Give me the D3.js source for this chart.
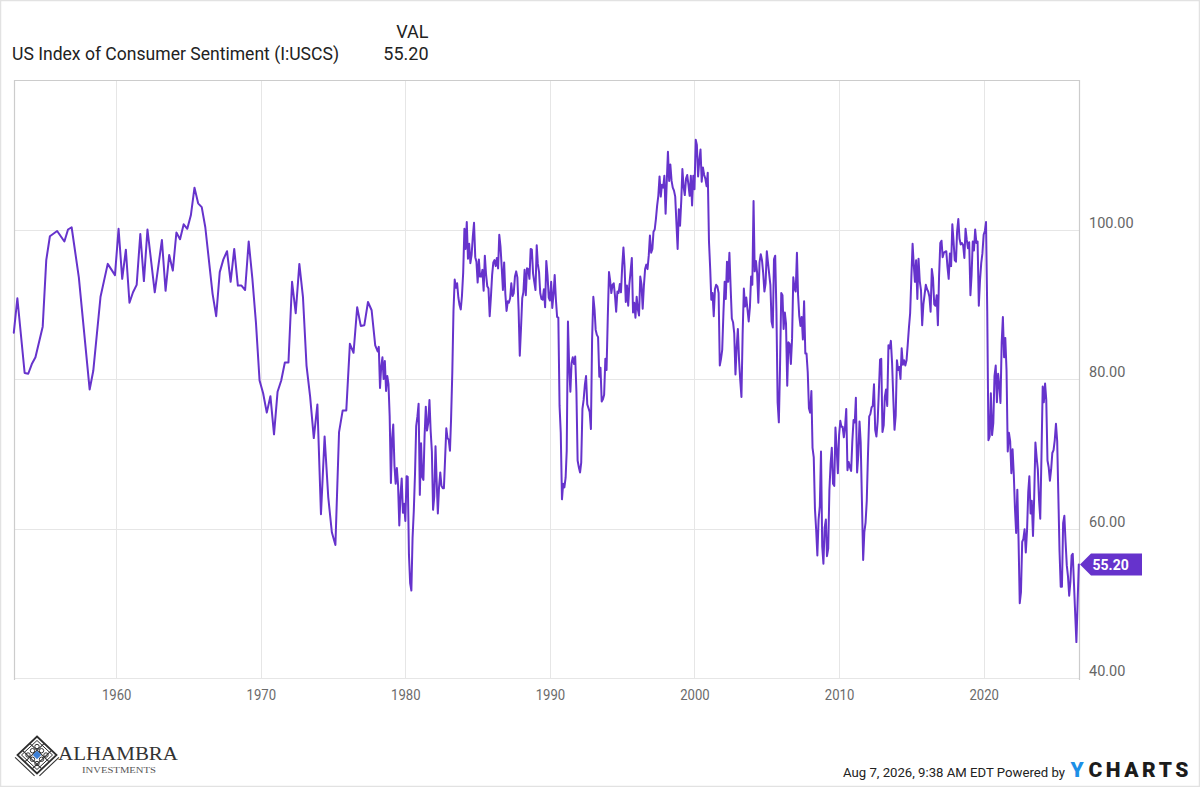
<!DOCTYPE html>
<html>
<head>
<meta charset="utf-8">
<script src="https://cdn.jsdelivr.net/npm/d3@7/dist/d3.min.js"></script>
<style>
  html, body { margin: 0; padding: 0; background: #ffffff; }
  svg { display: block; font-family: Roboto, "Open Sans", "DejaVu Sans", sans-serif; }
</style>
</head>
<body>
<script>
// ---------------- DATA ----------------
const seriesName = "US Index of Consumer Sentiment (I:USCS)";
const valueHeader = "VAL";
const stampText = "Aug 7, 2026, 9:38 AM EDT Powered by";

// Early survey readings (irregular / quarterly), month of survey
const earlyDates = [
  "1952-11","1953-02","1953-08","1953-11","1954-02","1954-05","1954-11","1955-02","1955-05","1955-11",
  "1956-05","1956-08","1956-11","1957-05","1958-02","1958-05","1958-11","1959-05","1959-11",
  "1960-02","1960-05","1960-08","1960-11","1961-02","1961-05","1961-08","1961-11","1962-02","1962-08",
  "1963-02","1963-05","1963-08","1963-11","1964-02","1964-05","1964-08","1964-11",
  "1965-02","1965-05","1965-08","1965-11","1966-02","1966-08","1966-11",
  "1967-02","1967-05","1967-08","1967-11","1968-02","1968-05","1968-08","1968-11",
  "1969-02","1969-05","1969-08","1969-11","1970-02","1970-05","1970-08","1970-11",
  "1971-02","1971-05","1971-08","1971-11","1972-02","1972-05","1972-08","1972-11",
  "1973-02","1973-05","1973-08","1973-11","1974-02","1974-05","1974-08","1974-11",
  "1975-02","1975-05","1975-08","1975-11","1976-02","1976-05","1976-08","1976-11",
  "1977-02","1977-05","1977-08","1977-11"
];
const earlyValues = [
  86.2,90.8,80.8,80.7,82.0,82.9,87.0,95.9,99.1,99.8,
  98.4,100.0,100.3,93.6,78.6,81.1,91.0,95.4,93.9,
  100.1,93.4,97.3,90.2,91.6,92.6,99.4,93.1,100.0,91.6,
  98.6,91.8,96.6,94.5,99.6,98.7,100.7,100.1,
  101.9,105.6,103.5,103.0,100.3,91.4,88.4,
  94.3,96.0,97.1,93.0,97.4,92.5,92.5,91.9,
  98.4,93.5,87.5,79.8,78.1,75.5,77.7,72.6,
  78.3,79.8,82.2,82.2,93.0,88.8,95.4,91.0,
  81.8,77.6,72.1,76.6,61.9,72.3,64.2,59.5,
  57.8,72.9,75.8,75.8,84.7,83.5,89.6,87.1,
  87.2,90.3,89.2,84.5
];

// Monthly readings, consecutive months starting January 1978
const monthlyStart = "1978-01";
const monthly1978to1989 = [
  83.7,84.3,78.8,81.6,82.9,80.0,82.4,78.4,80.4,79.3,75.0,66.1,
  72.1,73.9,68.4,66.0,68.1,65.8,60.4,64.5,66.7,62.1,63.3,61.0,
  67.0,66.9,56.5,52.7,51.7,58.7,62.3,67.3,73.7,75.0,76.7,64.5,
  71.4,66.9,66.5,72.4,76.3,73.1,74.1,77.2,73.1,70.3,62.5,64.3,
  71.0,66.5,62.0,65.5,67.5,65.7,65.4,65.4,69.3,73.4,72.1,71.9,
  70.4,74.6,80.8,89.1,93.3,92.2,92.8,90.9,89.9,89.3,91.1,94.2,
  100.1,97.4,101.0,96.1,98.1,95.5,96.6,99.1,100.9,96.3,95.7,92.9,
  96.0,93.7,93.7,94.6,91.8,96.5,94.0,92.4,92.1,88.4,90.9,93.9,
  95.6,95.9,95.1,96.2,94.8,99.3,97.7,94.9,91.9,95.6,91.4,89.1,
  90.4,90.2,90.8,92.8,91.1,91.5,93.7,94.4,93.6,89.3,83.1,86.8,
  90.8,91.6,94.6,91.2,94.8,94.7,93.4,97.4,97.3,94.1,93.0,91.9,
  97.9,95.4,94.3,91.5,90.7,90.6,92.0,89.6,95.8,93.9,90.9,90.5
];
const monthly1990to1999 = [
  93.0,89.5,91.3,93.9,90.6,88.3,88.2,76.4,72.8,63.9,66.0,65.5,
  66.8,70.4,87.7,81.8,78.3,82.1,82.9,82.0,83.0,78.3,69.1,68.2,
  67.5,68.8,76.0,77.2,79.2,80.4,76.6,76.1,75.6,73.3,85.3,91.0,
  89.3,86.6,85.9,85.6,80.3,81.5,77.0,77.3,77.9,82.7,81.2,88.2,
  94.3,93.2,91.5,92.6,92.8,91.2,89.0,91.7,91.5,92.7,91.6,95.1,
  97.6,95.1,90.3,92.5,89.8,92.7,94.4,96.2,88.9,90.2,88.2,91.0,
  89.3,88.5,93.7,92.7,89.4,92.4,94.7,95.3,94.7,96.5,99.2,96.9,
  97.4,99.7,100.0,101.4,103.2,104.5,107.1,104.4,106.0,105.6,107.2,102.1,
  106.6,110.4,106.5,108.7,106.5,105.6,105.2,104.4,100.9,97.4,102.7,100.5,
  103.9,108.1,105.7,104.6,106.8,107.3,106.0,104.5,107.2,103.2,107.2,105.4
];
const monthly2000to2009 = [
  112.0,111.3,107.1,109.2,110.7,106.4,108.3,107.3,106.8,105.8,107.6,98.4,
  94.7,90.6,91.5,88.4,92.0,92.6,92.4,91.5,81.8,82.7,83.9,88.8,
  93.0,90.7,95.7,93.0,96.9,92.4,88.1,87.6,86.1,80.6,84.2,86.7,
  82.4,79.9,77.6,86.0,92.1,89.7,90.9,89.3,87.7,89.6,93.7,92.6,
  103.8,94.4,95.8,94.2,90.2,95.6,96.7,95.9,94.2,91.7,92.8,97.1,
  95.5,94.1,92.6,87.7,86.9,96.0,96.5,89.1,76.9,74.2,81.6,91.5,
  91.2,86.7,88.9,87.4,79.1,84.9,84.7,82.0,85.4,93.6,92.1,91.7,
  96.9,91.3,88.4,87.1,88.3,85.3,90.4,83.4,83.4,80.9,76.1,75.5,
  78.4,70.8,69.5,62.6,59.8,56.4,61.2,63.0,70.3,57.6,55.3,60.1,
  61.2,56.3,57.3,65.1,68.7,70.8,66.0,65.7,73.5,70.6,67.4,72.5
];
const monthly2010to2019 = [
  74.4,73.6,73.6,72.2,73.6,76.0,67.8,68.9,68.2,67.7,71.6,74.5,
  74.2,77.5,67.5,69.8,74.3,71.5,63.7,55.8,59.5,60.8,63.7,69.9,
  75.0,75.3,76.2,76.4,79.3,73.2,72.3,74.3,78.3,82.6,82.7,72.9,
  73.8,77.6,78.6,76.4,84.5,84.1,85.1,82.1,77.5,73.2,75.1,82.5,
  81.2,81.6,80.0,84.1,81.9,82.5,81.8,82.5,84.6,86.9,88.8,93.6,
  98.1,95.4,93.0,95.9,90.7,96.1,93.1,91.9,87.2,90.0,91.3,92.6,
  92.0,91.7,91.0,89.0,94.7,93.5,90.0,89.8,91.2,87.2,93.8,98.2,
  98.5,96.3,96.9,97.0,97.1,95.0,93.4,96.8,95.1,100.7,98.5,95.9,
  95.7,99.7,101.4,98.8,98.0,98.2,97.9,96.2,100.1,98.6,97.5,98.3,
  91.2,93.8,98.4,97.2,100.0,98.2,98.4,89.8,93.2,95.5,96.8,99.3
];
const monthly2020to2026 = [
  99.8,101.0,89.1,71.8,72.3,78.1,72.5,74.1,80.4,81.8,76.9,80.7,
  79.0,76.8,84.9,88.3,82.9,85.5,81.2,70.3,72.8,71.7,67.4,70.6,
  67.2,62.8,59.4,65.2,58.4,50.0,51.5,58.2,58.6,59.9,56.8,59.7,
  64.9,67.0,62.0,63.7,59.0,64.2,71.5,69.5,67.9,63.8,61.3,69.7,
  79.0,76.9,79.4,77.2,69.1,68.2,66.4,67.9,70.1,70.5,71.8,74.0,
  71.7,64.7,57.0,52.2,52.2,60.7,61.7,58.2,55.1,53.6,51.0,52.9,
  56.4,56.6,52.6,48.7,44.8,50.0,55.2
];

const yTickValues = [40, 60, 80, 100];
const xTickYears = [1960, 1970, 1980, 1990, 2000, 2010, 2020];
const yDomain = [40, 120];

// ---------------- BUILD ----------------
const parseMonth = d3.timeParse("%Y-%m");
// each monthly reading is plotted at the close of its month
const plotDate = m => d3.timeMonth.offset(m, 1);

const data = [];
earlyDates.forEach((s, i) => data.push({ date: plotDate(parseMonth(s)), value: earlyValues[i] }));
const monthlyAll = [].concat(monthly1978to1989, monthly1990to1999, monthly2000to2009, monthly2010to2019, monthly2020to2026);
const m0 = parseMonth(monthlyStart);
monthlyAll.forEach((v, i) => data.push({ date: plotDate(d3.timeMonth.offset(m0, i)), value: v }));

const W = 1200, H = 787;
const plot = { left: 14, right: 1079, top: 80, bottom: 678 };

const svg = d3.select("body").append("svg").attr("width", W).attr("height", H);

// outer frame
svg.append("rect").attr("x", 0.5).attr("y", 0.5).attr("width", W - 1).attr("height", H - 1)
  .attr("fill", "#fff").attr("stroke", "#e2e2e2").attr("stroke-width", 1.5);

const x = d3.scaleTime()
  .domain(d3.extent(data, d => d.date))
  .range([plot.left - 0.2, plot.right - 0.2]);
const y = d3.scaleLinear().domain(yDomain).range([plot.bottom, plot.top]);

// gridlines
const grid = svg.append("g");
grid.selectAll("line.h").data(yTickValues).join("line")
  .attr("x1", plot.left).attr("x2", plot.right)
  .attr("y1", d => Math.round(y(d)) + 0.5).attr("y2", d => Math.round(y(d)) + 0.5)
  .attr("stroke", "#e6e6e6").attr("stroke-width", 1);
grid.selectAll("line.v").data(xTickYears).join("line")
  .attr("x1", d => Math.round(x(new Date(d, 0, 1))) + 0.5)
  .attr("x2", d => Math.round(x(new Date(d, 0, 1))) + 0.5)
  .attr("y1", plot.top).attr("y2", plot.bottom)
  .attr("stroke", "#e6e6e6").attr("stroke-width", 1);

// plot frame (left, top, right)
const frame = svg.append("g").attr("stroke", "#cccccc").attr("stroke-width", 1.2).attr("fill", "none");
frame.append("line").attr("x1", plot.left + 0.5).attr("x2", plot.left + 0.5).attr("y1", plot.top).attr("y2", plot.bottom + 2);
frame.append("line").attr("x1", plot.left).attr("x2", plot.right + 0.5).attr("y1", plot.top + 0.5).attr("y2", plot.top + 0.5);
frame.append("line").attr("x1", plot.right + 0.5).attr("x2", plot.right + 0.5).attr("y1", plot.top).attr("y2", plot.bottom + 2);

// x axis
const xAxis = d3.axisBottom(x)
  .tickValues(xTickYears.map(yr => new Date(yr, 0, 1)))
  .tickFormat(d3.timeFormat("%Y"))
  .tickSize(0).tickPadding(12);
const gx = svg.append("g").attr("transform", `translate(0,${plot.bottom})`).call(xAxis);
gx.select(".domain").remove();
gx.selectAll("text").attr("fill", "#6b6b6b").attr("font-size", 14)
  .attr("font-family", "Roboto, sans-serif").attr("textLength", 29.5).attr("lengthAdjust", "spacingAndGlyphs");

// y axis (right)
const yAxis = d3.axisRight(y).tickValues(yTickValues).tickFormat(d3.format(".2f")).tickSize(0).tickPadding(10);
const gy = svg.append("g").attr("transform", `translate(${plot.right},0)`).call(yAxis);
gy.select(".domain").remove();
gy.selectAll("text").attr("fill", "#666666").attr("font-size", 14.5)
  .attr("font-family", "Roboto, sans-serif").attr("y", -6.8);

// line
const line = d3.line().x(d => x(d.date)).y(d => y(d.value));
svg.append("path").datum(data)
  .attr("d", line)
  .attr("fill", "none")
  .attr("stroke", "#6633cc")
  .attr("stroke-width", 2)
  .attr("stroke-linejoin", "round")
  .attr("stroke-linecap", "round");

// last value flag
const last = data[data.length - 1];
const ly = y(last.value);
const lx = plot.right + 1;
svg.append("path")
  .attr("d", `M${lx},${ly} L${lx + 11},${ly - 11} L${lx + 62},${ly - 11} L${lx + 62},${ly + 11} L${lx + 11},${ly + 11} Z`)
  .attr("fill", "#6633cc");
svg.append("text").attr("x", lx + 12.5).attr("y", ly + 5.2)
  .attr("fill", "#ffffff").attr("font-size", 14).attr("font-weight", 700)
  .attr("font-family", "Roboto, sans-serif")
  .text(d3.format(".2f")(last.value));

// header
svg.append("text").attr("x", 12).attr("y", 59.5).attr("font-size", 18).attr("fill", "#222")
  .attr("textLength", 327).attr("lengthAdjust", "spacingAndGlyphs").text(seriesName);
svg.append("text").attr("x", 428.5).attr("y", 37.8).attr("font-size", 18).attr("fill", "#222")
  .attr("text-anchor", "end").text(valueHeader);
svg.append("text").attr("x", 428.5).attr("y", 59.5).attr("font-size", 18).attr("fill", "#222")
  .attr("text-anchor", "end").text(d3.format(".2f")(last.value));

// footer stamp: size it so its natural width fits before the YCharts mark
const stamp = svg.append("text").attr("x", 843).attr("y", 776.5).attr("font-size", 15).attr("fill", "#222").text(stampText);
const natural = stamp.node().getComputedTextLength();
const targetW = 222;
if (natural > targetW) stamp.attr("font-size", (15 * targetW / natural).toFixed(2));

svg.append("text").attr("x", 1070.5).attr("y", 777.3).attr("font-size", 21).attr("font-weight", 900)
  .attr("fill", "#1d8fe6").text("Y");
svg.append("text").attr("x", 1088.5).attr("y", 777.3).attr("font-size", 21).attr("font-weight", 900)
  .attr("fill", "#1c1c1c").attr("textLength", 100).attr("lengthAdjust", "spacing").text("CHARTS");

// Alhambra logo
const logo = svg.append("g").attr("transform", "translate(37,755)");
const hw = 19.5, hh = 18.5;
logo.append("path").attr("d", `M0,${-hh} L${hw},0 L0,${hh} L${-hw},0 Z`)
  .attr("fill", "none").attr("stroke", "#2f2f2f").attr("stroke-width", 1.8);
logo.append("path").attr("d", `M0,${-hh + 4} L${hw - 4},0 L0,${hh - 4} L${-hw + 4},0 Z`)
  .attr("fill", "none").attr("stroke", "#2f2f2f").attr("stroke-width", 1);
const lat = logo.append("g").attr("stroke", "#333").attr("stroke-width", 1.1).attr("fill", "none");
[-0.5, 0, 0.5].forEach(t => {
  lat.append("line").attr("x1", -hw * 0.75 + t * hw * 0.75).attr("y1", -hh * 0.25 - t * hh * 0.75)
    .attr("x2", hw * 0.25 + t * hw * 0.75).attr("y2", hh * 0.75 - t * hh * 0.75);
  lat.append("line").attr("x1", hw * 0.75 - t * hw * 0.75).attr("y1", -hh * 0.25 - t * hh * 0.75)
    .attr("x2", -hw * 0.25 - t * hw * 0.75).attr("y2", hh * 0.75 - t * hh * 0.75);
});
[[-9, 0], [9, 0], [0, -8.5], [0, 8.5], [-4.5, -4.3], [4.5, -4.3], [-4.5, 4.3], [4.5, 4.3]].forEach(p => {
  logo.append("circle").attr("cx", p[0]).attr("cy", p[1]).attr("r", 2.2)
    .attr("fill", "none").attr("stroke", "#333").attr("stroke-width", 1);
});
logo.append("path").attr("d", "M0,-4.2 L4.2,0 L0,4.2 L-4.2,0 Z").attr("fill", "#3b7fd6");

svg.append("text").attr("x", 58).attr("y", 760.3).attr("font-size", 19.5)
  .attr("font-family", "'Liberation Serif', 'DejaVu Serif', serif").attr("fill", "#333")
  .attr("textLength", 120).attr("lengthAdjust", "spacingAndGlyphs").text("ALHAMBRA");
svg.append("text").attr("x", 82).attr("y", 772.8).attr("font-size", 7.8)
  .attr("font-family", "'Liberation Serif', 'DejaVu Serif', serif").attr("fill", "#555")
  .attr("textLength", 74).attr("lengthAdjust", "spacingAndGlyphs").text("INVESTMENTS");
</script>
</body>
</html>
